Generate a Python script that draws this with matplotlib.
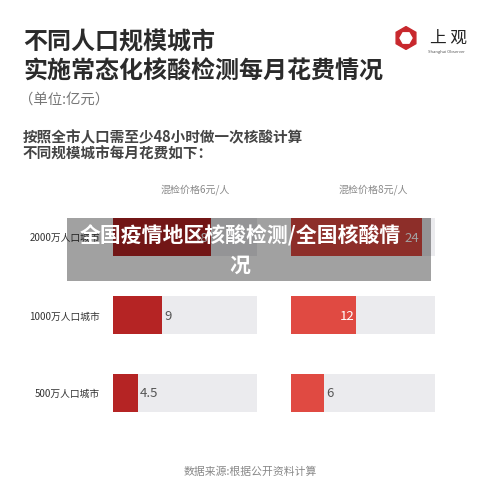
import numpy as np
import matplotlib.pyplot as plt
from matplotlib.patches import Rectangle, RegularPolygon

plt.rcParams['font.family'] = ['Noto Sans CJK SC', 'DejaVu Sans']

# data
cities = ['2000万人口城市', '1000万人口城市', '500万人口城市']
price_6 = [18, 9, 4.5]     # 混检价格6元/人
price_8 = [24, 12, 6]      # 混检价格8元/人
labels_6 = ['18', '9', '4.5']
labels_8 = ['24', '12', '6']
headers = ['混检价格6元/人', '混检价格8元/人']
track_max = 26.4

W, H = 500, 502
fig = plt.figure(figsize=(W / 100, H / 100), dpi=100)
fig.patch.set_facecolor('white')

def fx(px):
    return px / W

def fy(py):
    return 1 - py / H

# titles
fig.text(fx(23), fy(43), '不同人口规模城市', fontsize=17.3, fontweight='bold',
         color='#2b2b2b', va='center', ha='left')
fig.text(fx(23), fy(72), '实施常态化核酸检测每月花费情况', fontsize=17.3, fontweight='bold',
         color='#2b2b2b', va='center', ha='left')
fig.text(fx(19), fy(100), '（单位:亿元）', fontsize=10.4, color='#777777',
         va='center', ha='left')
fig.text(fx(23), fy(137), '按照全市人口需至少48小时做一次核酸计算', fontsize=10.5,
         fontweight='bold', color='#444444', va='center', ha='left')
fig.text(fx(23), fy(154), '不同规模城市每月花费如下：', fontsize=10.5,
         fontweight='bold', color='#444444', va='center', ha='left')

# logo
lax = fig.add_axes([fx(394), fy(51), fx(24), 24 / H])
lax.set_xlim(-1, 1)
lax.set_ylim(-1, 1)
lax.set_aspect('equal')
lax.axis('off')
lax.add_patch(RegularPolygon((0, 0), 6, radius=0.95, orientation=0, color='#c8282d'))
lax.add_patch(RegularPolygon((0, 0), 6, radius=0.5, orientation=np.pi / 6, color='white'))
fig.text(fx(448), fy(38), '上 观', fontsize=12, color='#222222', va='center', ha='center')
fig.text(fx(446), fy(52), 'Shanghai Observer', fontsize=3, color='#555555',
         va='center', ha='center')

# bar panels
y = np.arange(len(cities))
panels = [(113, price_6, labels_6, '#b52424'), (291, price_8, labels_8, '#e04a42')]
for i, (x0, vals, labs, col) in enumerate(panels):
    ax = fig.add_axes([fx(x0), fy(433), fx(144), 234 / H])
    ax.barh(y, [track_max] * len(y), height=0.49, color='#ebebee')
    ax.barh(y, vals, height=0.49, color=col)
    ax.set_xlim(0, track_max)
    ax.set_ylim(2.5, -0.5)
    ax.axis('off')
    for yi, v, lab in zip(y, vals, labs):
        if v > 10:
            ax.text(v - 0.4, yi, lab, color='white', fontsize=9.5, va='center', ha='right')
        else:
            ax.text(v + 0.4, yi, lab, color='#555555', fontsize=9.5, va='center', ha='left')
    fig.text(fx(x0 + 82), fy(190), headers[i], fontsize=7.2, color='#888888',
             va='center', ha='center')

for yi, c in zip([238, 317, 394], cities):
    fig.text(fx(100), fy(yi), c, fontsize=7, color='#333333', va='center', ha='right')

fig.text(0.5, fy(472), '数据来源:根据公开资料计算', fontsize=7.8, color='#888888',
         va='center', ha='center')

# watermark overlay
fig.patches.append(Rectangle((fx(67), fy(282)), fx(364), 63 / H, transform=fig.transFigure,
                             facecolor='black', alpha=0.37, edgecolor='none', zorder=5))
fig.text(fx(240), fy(236), '全国疫情地区核酸检测/全国核酸情', fontsize=15, fontweight='heavy',
         color='white', va='center', ha='center', zorder=6)
fig.text(fx(240), fy(265), '况', fontsize=15, fontweight='heavy',
         color='white', va='center', ha='center', zorder=6)

fig.savefig('out.png', dpi=100)
